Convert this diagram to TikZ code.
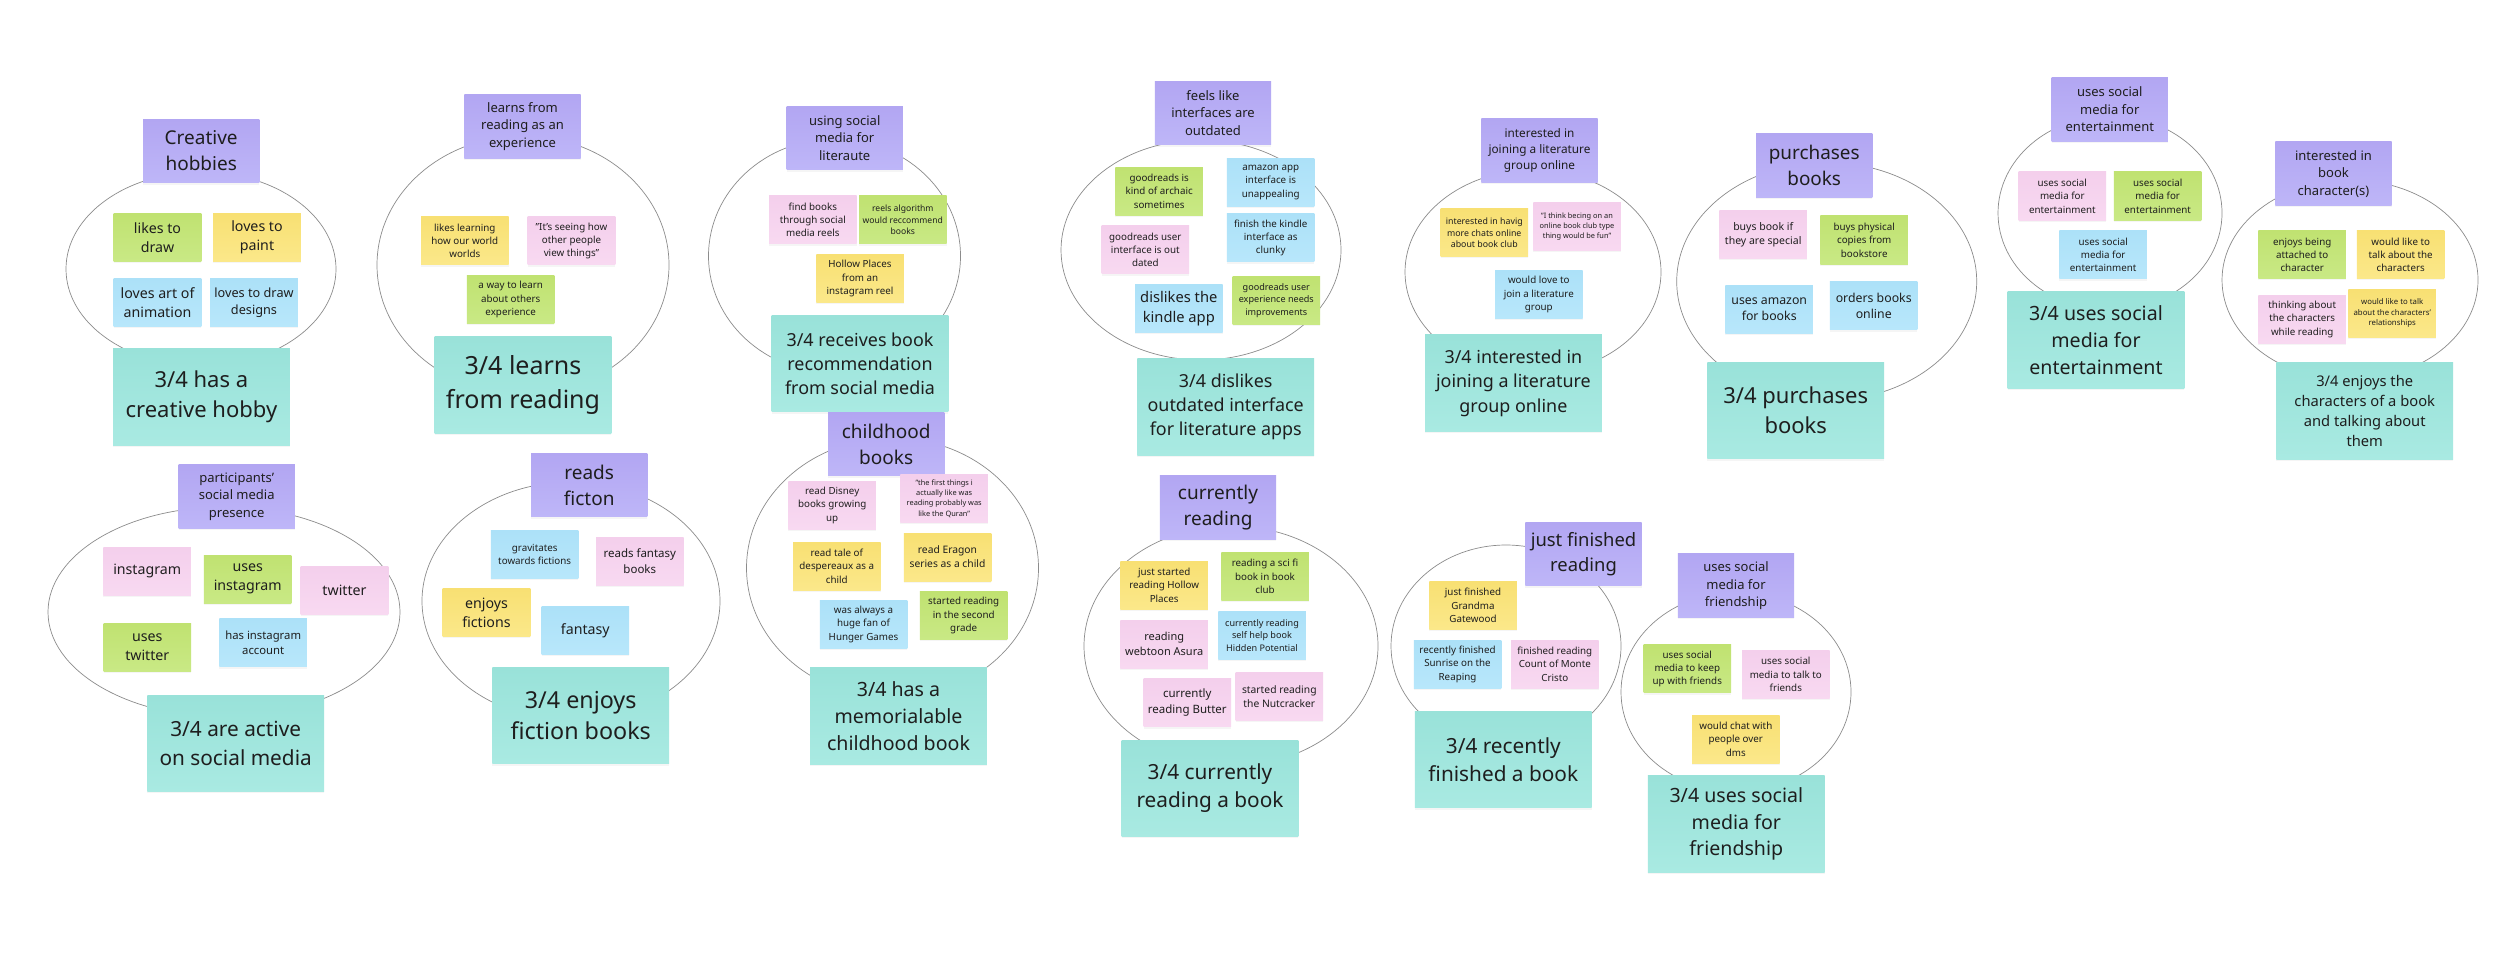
\documentclass[tikz,border=0pt]{standalone}
\usepackage{fontspec}
\setmainfont{Noto Sans}
\usetikzlibrary{shadows}
\definecolor{txt}{HTML}{1E1E1E}
\definecolor{ringc}{HTML}{8C8C8C}
\definecolor{purT}{HTML}{B2A6F2}
\definecolor{purB}{HTML}{BEB6F8}
\definecolor{tealT}{HTML}{99E2D9}
\definecolor{tealB}{HTML}{A9EAE2}
\definecolor{grT}{HTML}{C0E271}
\definecolor{grB}{HTML}{C9E985}
\definecolor{yeT}{HTML}{F8E073}
\definecolor{yeB}{HTML}{FBE88A}
\definecolor{blT}{HTML}{ACE1F8}
\definecolor{blB}{HTML}{B8E7FB}
\definecolor{pkT}{HTML}{F4CFEC}
\definecolor{pkB}{HTML}{F8D9F1}
\newcommand\fs[1]{\fontsize{\fpeval{#1*1.138}}{\fpeval{#1*1.548}}\selectfont}
\newcommand\ring[4]{\draw[ringline] (#1,#2) ellipse [x radius={#3*0.04cm}, y radius={#4*0.04cm}];}
\tikzset{
  ringline/.style={draw=ringc, line width=0.8pt},
  base/.style={inner sep=0pt, align=center, text=txt, anchor=center,
    drop shadow={shadow xshift=0pt, shadow yshift=-2pt, opacity=0.08}},
  st/.style={base, minimum width=3.5cm, minimum height=1.92cm},
  gr/.style={top color=grT, bottom color=grB},
  ye/.style={top color=yeT, bottom color=yeB},
  bl/.style={top color=blT, bottom color=blB},
  pk/.style={top color=pkT, bottom color=pkB},
  head/.style={base, top color=purT, bottom color=purB, minimum width=4.65cm, minimum height=2.55cm},
  summ/.style={base, top color=tealT, bottom color=tealB, minimum width=7.07cm, minimum height=3.86cm},
}
\begin{document}
\begin{tikzpicture}[x=0.04cm, y=-0.04cm]
\fill[white] (0,0) rectangle (2500,971);
\useasboundingbox (0,0) rectangle (2500,971);

% ---------- rings ----------
\ring{201}{269}{135}{97}
\ring{523}{265}{146}{129}
\ring{834.5}{256}{126}{117}
\ring{1201}{250}{140}{110}
\ring{1533}{272}{128}{102}
\ring{1826.7}{281.5}{150}{119}
\ring{2110}{213}{112}{97}
\ring{2350}{280}{128}{100}
\ring{224}{612}{176}{105}
\ring{571}{601}{149}{119}
\ring{892.5}{568}{146}{130}
\ring{1231}{646}{147}{120}
\ring{1506}{646}{115}{101}
\ring{1736}{692}{115}{99.5}

% ---------- cluster 1 ----------
\node[head, font=\fs{19}] (h1) at (201.2,151) {Creative\\hobbies};
\node[st, gr, font=\fs{14.2}] (c1a) at (157.5,237.5) {likes to\\draw};
\node[st, ye, font=\fs{14.2}] (c1b) at (257,237.5) {loves to\\paint};
\node[st, bl, font=\fs{14.2}] (c1c) at (157.5,302.5) {loves art of\\animation};
\node[st, bl, font=\fs{12.7}] (c1d) at (254,302.5) {loves to draw\\designs};
\node[summ, font=\fs{22}] (s1) at (201.4,396.8) {3/4 has a\\creative hobby};

% ---------- cluster 2 ----------
\node[head, font=\fs{13}] (h2) at (522.5,126.3) {learns from\\reading as an\\experience};
\node[st, ye, font=\fs{9.8}] (c2a) at (464.8,240.8) {likes learning\\how our world\\worlds};
\node[st, pk, font=\fs{9.8}] (c2b) at (571.5,240.8) {"It's seeing how\\other people\\view things"};
\node[st, gr, font=\fs{9.8}] (c2c) at (510.7,299.5) {a way to learn\\about others\\experience};
\node[summ, font=\fs{25}] (s2) at (523,385) {3/4 learns\\from reading};

% ---------- cluster 3 ----------
\node[head, font=\fs{13}] (h3) at (844.7,138) {using social\\media for\\literaute};
\node[st, pk, font=\fs{9.8}] (c3a) at (812.8,219.8) {find books\\through social\\media reels};
\node[st, gr, font=\fs{8.6}] (c3b) at (902.8,219.8) {reels algorithm\\would reccommend\\books};
\node[st, ye, font=\fs{9.8}] (c3c) at (860,278.5) {Hollow Places\\from an\\instagram reel};
\node[summ, font=\fs{17.9}] (s3) at (860,363.7) {3/4 receives book\\recommendation\\from social media};

% ---------- cluster 4 ----------
\node[head, font=\fs{13}] (h4) at (1213,113) {feels like\\interfaces are\\outdated};
\node[st, gr, font=\fs{9.8}] (c4a) at (1159.2,191.3) {goodreads is\\kind of archaic\\sometimes};
\node[st, bl, font=\fs{9.8}] (c4b) at (1270.7,182.2) {amazon app\\interface is\\unappealing};
\node[st, pk, font=\fs{9.8}] (c4c) at (1145.3,249.8) {goodreads user\\interface is out\\dated};
\node[st, bl, font=\fs{9.8}] (c4d) at (1270.7,237.8) {finish the kindle\\interface as\\clunky};
\node[st, bl, font=\fs{14.7}] (c4e) at (1178.8,308.7) {dislikes the\\kindle app};
\node[st, gr, font=\fs{9.1}] (c4f) at (1276.3,300.5) {goodreads user\\experience needs\\improvements};
\node[summ, font=\fs{17.9}] (s4) at (1225.7,406.8) {3/4 dislikes\\outdated interface\\for literature apps};

% ---------- cluster 5 ----------
\node[head, font=\fs{11.8}] (h5) at (1539.5,150.8) {interested in\\joining a literature\\group online};
\node[st, ye, font=\fs{8.8}] (c5a) at (1484.3,232.7) {interested in havig\\more chats online\\about book club};
\node[st, pk, font=\fs{7.4}] (c5b) at (1577,226.7) {"I think becing on an\\online book club type\\thing would be fun"};
\node[st, bl, font=\fs{9.8}] (c5c) at (1538.8,294.5) {would love to\\join a literature\\group};
\node[summ, font=\fs{17.9}] (s5) at (1513.4,383.2) {3/4 interested in\\joining a literature\\group online};

% ---------- cluster 6 ----------
\node[head, font=\fs{18.9}] (h6) at (1814.2,165.3) {purchases\\books};
\node[st, pk, font=\fs{10.5}] (c6a) at (1763.2,234.5) {buys book if\\they are special};
\node[st, gr, font=\fs{9.8}] (c6b) at (1864.2,240) {buys physical\\copies from\\bookstore};
\node[st, bl, font=\fs{12.3}] (c6c) at (1769.2,309.2) {uses amazon\\for books};
\node[st, bl, font=\fs{12.3}] (c6d) at (1873.7,305.8) {orders books\\online};
\node[summ, font=\fs{22}] (s6) at (1795.7,410.7) {3/4 purchases\\books};

% ---------- cluster 7 ----------
\node[head, font=\fs{13}] (h7) at (2109.8,109.2) {uses social\\media for\\entertainment};
\node[st, pk, font=\fs{9.8}] (c7a) at (2062.3,196) {uses social\\media for\\entertainment};
\node[st, gr, font=\fs{9.8}] (c7b) at (2157.7,196) {uses social\\media for\\entertainment};
\node[st, bl, font=\fs{9.8}] (c7c) at (2103.2,254.8) {uses social\\media for\\entertainment};
\node[summ, font=\fs{19.6}] (s7) at (2096,340) {3/4 uses social\\media for\\entertainment};

% ---------- cluster 8 ----------
\node[head, font=\fs{13}] (h8) at (2333.5,173.8) {interested in\\book\\character(s)};
\node[st, gr, font=\fs{9.8}] (c8a) at (2302.2,254.7) {enjoys being\\attached to\\character};
\node[st, ye, font=\fs{9.8}] (c8b) at (2400.7,254.7) {would like to\\talk about the\\characters};
\node[st, pk, font=\fs{9.8}] (c8c) at (2302.2,319.3) {thinking about\\the characters\\while reading};
\node[st, ye, font=\fs{7.8}] (c8d) at (2392.2,313.3) {would like to talk\\about the characters'\\relationships};
\node[summ, font=\fs{14.7}] (s8) at (2364.7,411) {3/4 enjoys the\\characters of a book\\and talking about\\them};

% ---------- cluster 9 ----------
\node[head, font=\fs{13}] (h9) at (236.7,496.7) {participants'\\social media\\presence};
\node[st, pk, font=\fs{14.2}] (c9a) at (147.2,571) {instagram};
\node[st, gr, font=\fs{14.2}] (c9b) at (247.7,579) {uses\\instagram};
\node[st, pk, font=\fs{14.2}] (c9c) at (344.5,590.5) {twitter};
\node[st, gr, font=\fs{14.2}] (c9d) at (147.3,647.5) {uses\\twitter};
\node[st, bl, font=\fs{11.3}] (c9e) at (263.2,642.8) {has instagram\\account};
\node[summ, font=\fs{20.8}] (s9) at (235.7,743.3) {3/4 are active\\on social media};

% ---------- cluster 10 ----------
\node[head, font=\fs{19}] (h10) at (589.2,485) {reads\\ficton};
\node[st, bl, font=\fs{9.8}] (c10a) at (534.7,554.3) {gravitates\\towards fictions};
\node[st, pk, font=\fs{11.5}] (c10b) at (639.8,561.2) {reads fantasy\\books};
\node[st, ye, font=\fs{14.2}] (c10c) at (486.5,612.7) {enjoys\\fictions};
\node[st, bl, font=\fs{14.2}] (c10d) at (585.3,630.7) {fantasy};
\node[summ, font=\fs{23.3}] (s10) at (580.7,715.5) {3/4 enjoys\\fiction books};

% ---------- cluster 11 ----------
\node[head, font=\fs{19}] (h11) at (886.2,444) {childhood\\books};
\node[st, pk, font=\fs{9.8}] (c11a) at (832.2,505.2) {read Disney\\books growing\\up};
\node[st, pk, font=\fs{7.4}] (c11b) at (944.2,498.7) {"the first things i\\actually like was\\reading probably was\\like the Quran"};
\node[st, ye, font=\fs{9.8}] (c11c) at (836.8,566) {read tale of\\despereaux as a\\child};
\node[st, ye, font=\fs{10.3}] (c11d) at (947.5,557) {read Eragon\\series as a child};
\node[st, bl, font=\fs{9.8}] (c11e) at (863.5,624.3) {was always a\\huge fan of\\Hunger Games};
\node[st, gr, font=\fs{9.8}] (c11f) at (963.7,615.7) {started reading\\in the second\\grade};
\node[summ, font=\fs{19.6}] (s11) at (898.5,716) {3/4 has a\\memorialable\\childhood book};

% ---------- cluster 12 ----------
\node[head, font=\fs{19}] (h12) at (1218,507.3) {currently\\reading};
\node[st, ye, font=\fs{9.8}] (c12a) at (1164.2,585.2) {just started\\reading Hollow\\Places};
\node[st, gr, font=\fs{9.8}] (c12b) at (1265,576.3) {reading a sci fi\\book in book\\club};
\node[st, pk, font=\fs{11}] (c12c) at (1164.2,644.2) {reading\\webtoon Asura};
\node[st, bl, font=\fs{9.1}] (c12d) at (1262,635.5) {currently reading\\self help book\\Hidden Potential};
\node[st, pk, font=\fs{11.5}] (c12e) at (1187.3,702.8) {currently\\reading Butter};
\node[st, pk, font=\fs{10.3}] (c12f) at (1279.3,696.2) {started reading\\the Nutcracker};
\node[summ, font=\fs{20.8}] (s12) at (1210,788.3) {3/4 currently\\reading a book};

% ---------- cluster 13 ----------
\node[head, font=\fs{18.4}] (h13) at (1583.5,554) {just finished\\reading};
\node[st, ye, font=\fs{9.8}] (c13a) at (1473,605.5) {just finished\\Grandma\\Gatewood};
\node[st, bl, font=\fs{9.8}] (c13b) at (1457.5,664.2) {recently finished\\Sunrise on the\\Reaping};
\node[st, pk, font=\fs{9.8}] (c13c) at (1554.8,664.2) {finished reading\\Count of Monte\\Cristo};
\node[summ, font=\fs{20.8}] (s13) at (1503.3,759.5) {3/4 recently\\finished a book};

% ---------- cluster 14 ----------
\node[head, font=\fs{13}] (h14) at (1736,585.7) {uses social\\media for\\friendship};
\node[st, gr, font=\fs{9.8}] (c14a) at (1687.3,668.8) {uses social\\media to keep\\up with friends};
\node[st, pk, font=\fs{9.8}] (c14b) at (1785.8,674.5) {uses social\\media to talk to\\friends};
\node[st, ye, font=\fs{9.8}] (c14c) at (1735.8,739) {would chat with\\people over\\dms};
\node[summ, font=\fs{19.6}] (s14) at (1736.3,824.2) {3/4 uses social\\media for\\friendship};
\end{tikzpicture}
\end{document}
